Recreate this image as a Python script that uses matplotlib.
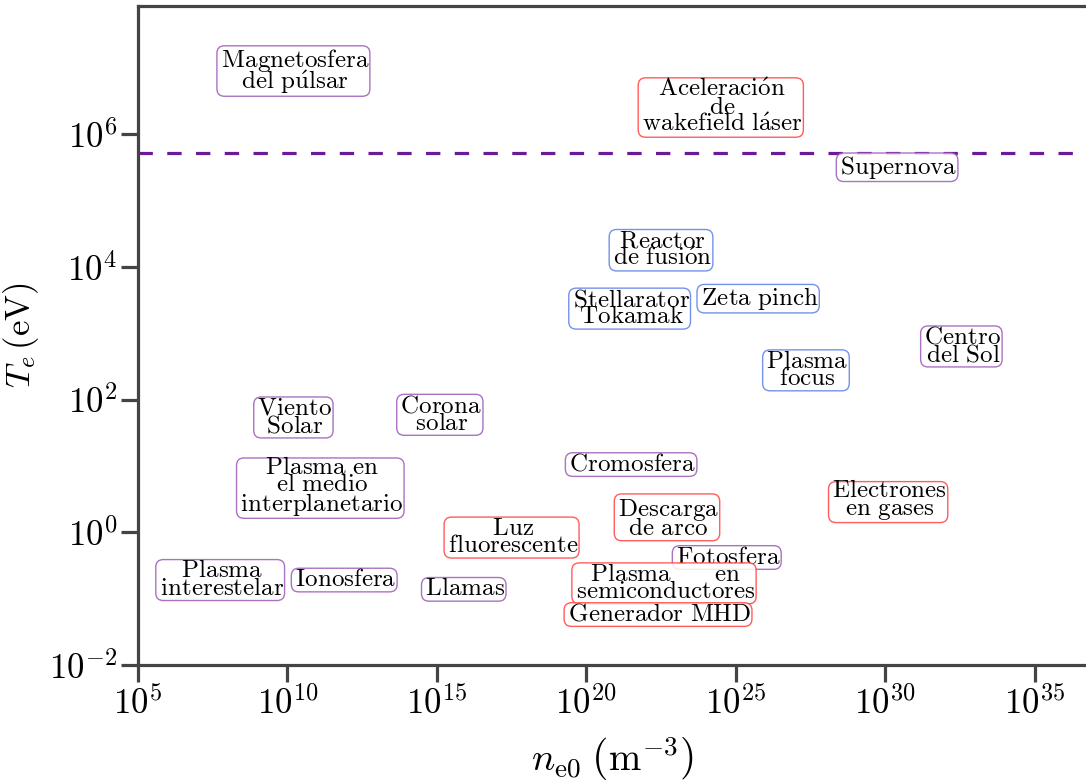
import numpy as np
import matplotlib
matplotlib.use("Agg")
import matplotlib.pyplot as plt
from matplotlib.ticker import FixedLocator, FuncFormatter

plt.rcParams["mathtext.fontset"] = "cm"
plt.rcParams["font.family"] = "serif"
plt.rcParams["font.serif"] = ["cmr10", "DejaVu Serif"]
plt.rcParams["axes.formatter.use_mathtext"] = True

# plasma regimes: label, log10(n_e0 / m^-3), log10(T_e / eV), group
labels = [
    "Magnetosfera\ndel púlsar",
    "Aceleración\nde\nwakefield láser",
    "Supernova",
    "Reactor\nde fusión",
    "Stellarator\nTokamak",
    "Zeta pinch",
    "Centro\ndel Sol",
    "Plasma\nfocus",
    "Viento\nSolar",
    "Corona\nsolar",
    "Cromosfera",
    "Plasma en\nel medio\ninterplanetario",
    "Electrones\nen gases",
    "Descarga\nde arco",
    "Luz\nfluorescente",
    "Fotosfera",
    "Plasma\ninterestelar",
    "Ionosfera",
    "Llamas",
    "Plasma      en\nsemiconductores",
    "Generador MHD",
]
log_n = [10.2, 24.5, 30.4, 22.5, 21.45, 25.75, 32.55, 27.35, 10.2, 15.1, 21.5,
         11.1, 30.1, 22.7, 17.5, 24.7, 7.75, 11.9, 15.9, 22.6, 22.4]
log_T = [6.95, 6.4, 5.5, 4.25, 3.37, 3.52, 2.8, 2.44, 1.73, 1.77, 1.02,
         0.68, 0.47, 0.21, -0.08, -0.38, -0.72, -0.72, -0.86, -0.77, -1.24]
group = ["astro", "lab", "astro", "fusion", "fusion", "fusion", "astro",
         "fusion", "astro", "astro", "astro", "astro", "lab", "lab", "lab",
         "astro", "astro", "astro", "astro", "lab", "lab"]

# electron rest energy m_e c^2 in eV
T_rel = 5.11e5

edge = {"astro": "#9b59b6", "lab": "#ff4040", "fusion": "#5b7fe8"}


def to_math(s):
    # accented letters through mathtext so they stay in Computer Modern;
    # a thin space each side gives the boxes some side margin
    out = []
    for line in s.split("\n"):
        for a, b in (("á", r"\acute{a}"), ("é", r"\acute{e}"),
                     ("ó", r"\acute{o}"), ("ú", r"\acute{u}")):
            line = line.replace(a, b)
        line = line.replace(" ", r"\ ")
        out.append(r"$\,\mathrm{%s}\,$" % line)
    return "\n".join(out)


fig = plt.figure(figsize=(10.86, 7.84), dpi=100)
ax = fig.add_axes([138 / 1086, 119 / 784, 1 - 138 / 1086, 659 / 784])
ax.set_xscale("log")
ax.set_yscale("log")
ax.set_xlim(1e5, 10 ** 36.72)
ax.set_ylim(1e-2, 10 ** 7.93)

ax.axhline(T_rel, color="#6a1b9a", lw=2.3, dashes=(4.5, 4.5), zorder=1)

for lab, xn, yt, g in zip(labels, log_n, log_T, group):
    ax.text(10 ** xn, 10 ** yt, to_math(lab), ha="center", va="center",
            fontsize=18, linespacing=0.72, zorder=3,
            bbox=dict(boxstyle="round,pad=0.03,rounding_size=0.3",
                      fc="white", ec=edge[g], lw=1.0, alpha=0.85))

ax.xaxis.set_major_locator(FixedLocator([10.0 ** k for k in range(5, 40, 5)]))
ax.yaxis.set_major_locator(FixedLocator([10.0 ** k for k in range(-2, 8, 2)]))
ax.xaxis.set_minor_locator(FixedLocator([]))
ax.yaxis.set_minor_locator(FixedLocator([]))
fmt = FuncFormatter(lambda v, _: r"$10^{%d}$" % round(np.log10(v)))
ax.xaxis.set_major_formatter(fmt)
ax.yaxis.set_major_formatter(fmt)
ax.tick_params(labelsize=25, length=12, width=2.3, color="#444444", pad=3)

for side in ("left", "bottom", "top"):
    ax.spines[side].set_linewidth(2.3)
    ax.spines[side].set_color("#444444")
ax.spines["right"].set_visible(False)

ax.set_xlabel(r"$n_{\mathrm{e}0}\;\left(\mathrm{m}^{-3}_{\ }\right)$",
              fontsize=28, labelpad=10)
ax.set_ylabel(r"$T_e\,(\mathrm{eV})$", fontsize=25, labelpad=6)

fig.savefig("out.png", dpi=100)
